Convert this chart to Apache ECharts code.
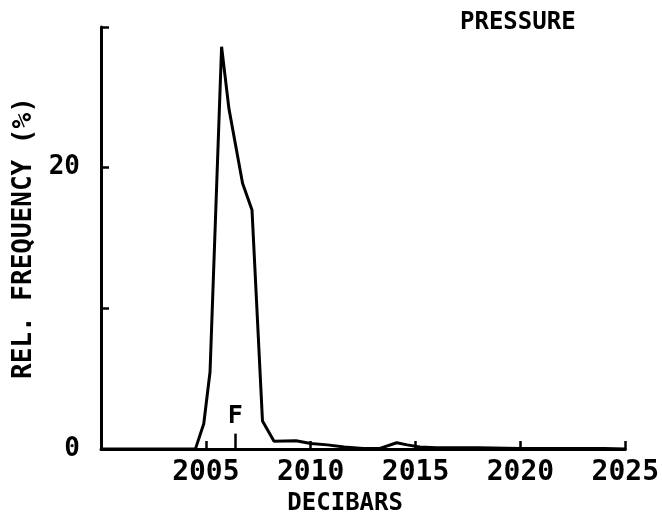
<!DOCTYPE html>
<html>
<head>
<meta charset="utf-8">
<script src="https://cdn.jsdelivr.net/npm/echarts@6/dist/echarts.min.js"></script>
<style>
  html, body { margin: 0; padding: 0; background: #fff; }
  #chart { width: 662px; height: 521px; }
</style>
</head>
<body>
<div id="chart"></div>
<script>
// pressure histogram (decibars vs rel. frequency %)
var pressure = [2000, 2004.5, 2004.9, 2005.2, 2005.75, 2006.1, 2006.75, 2007.2, 2007.7, 2008.25,
                2009.3, 2010.0, 2010.8, 2011.6, 2012.5, 2013.3, 2014.1, 2014.6, 2015.2, 2016,
                2018, 2020, 2022, 2024, 2025];
var freq = [0, 0, 1.8, 5.5, 28.6, 24.2, 18.9, 17.0, 2.0, 0.56,
            0.6, 0.4, 0.3, 0.15, 0.05, 0.05, 0.45, 0.3, 0.15, 0.1,
            0.1, 0.05, 0.05, 0.05, 0];
var xTickLabels = ['2005', '2010', '2015', '2020', '2025'];
var yTickLabels = ['0', '20'];
var meanPressure = 2006.4;
var meanMark = 1.1;

var font = 'DejaVu Sans Mono';

var chart = echarts.init(document.getElementById('chart'));

var points = [];
for (var i = 0; i < pressure.length; i++) {
  points.push([pressure[i], freq[i]]);
}

var option = {
  backgroundColor: '#fff',
  animation: false,
  title: {
    text: 'PRESSURE',
    left: 455,
    top: 6,
    textStyle: { fontFamily: font, fontWeight: 'bold', fontSize: 24, color: '#000' }
  },
  grid: { left: 101, right: 34, top: 27, bottom: 70, containLabel: false },
  xAxis: {
    type: 'value',
    min: 2000,
    max: 2025,
    interval: 5,
    name: 'DECIBARS',
    nameLocation: 'middle',
    nameGap: 38,
    nameTextStyle: { fontFamily: font, fontWeight: 'bold', fontSize: 24, color: '#000', padding: [0, 36, 0, 0] },
    splitLine: { show: false },
    axisLine: { lineStyle: { color: '#000', width: 3 } },
    axisTick: { inside: true, length: 8, lineStyle: { color: '#000', width: 2.5 } },
    axisLabel: {
      margin: 10,
      fontFamily: font, fontWeight: 'bold', fontSize: 28, color: '#000',
      formatter: function (v) {
        var s = String(v);
        return xTickLabels.indexOf(s) >= 0 ? s : '';
      }
    }
  },
  yAxis: {
    type: 'value',
    min: 0,
    max: 30,
    interval: 10,
    name: 'REL. FREQUENCY (%)',
    nameLocation: 'middle',
    nameGap: 64,
    nameTextStyle: { fontFamily: font, fontWeight: 'bold', fontSize: 26, color: '#000' },
    splitLine: { show: false },
    axisLine: { lineStyle: { color: '#000', width: 3 } },
    axisTick: { inside: true, length: 8, lineStyle: { color: '#000', width: 2.5 } },
    axisLabel: {
      margin: 21,
      fontFamily: font, fontWeight: 'bold', fontSize: 26, color: '#000',
      formatter: function (v) {
        var s = String(v);
        return yTickLabels.indexOf(s) >= 0 ? s : '';
      }
    }
  },
  series: [
    {
      type: 'line',
      data: points,
      symbol: 'none',
      lineStyle: { color: '#000', width: 3 },
      markLine: {
        silent: true,
        symbol: 'none',
        lineStyle: { color: '#000', width: 2.5, type: 'solid' },
        label: {
          show: true,
          position: 'end',
          formatter: 'F',
          distance: 5,
          fontFamily: font, fontWeight: 'bold', fontSize: 25, color: '#000'
        },
        data: [[{ coord: [meanPressure, 0] }, { coord: [meanPressure, meanMark] }]]
      }
    }
  ]
};

chart.setOption(option);
</script>
</body>
</html>
